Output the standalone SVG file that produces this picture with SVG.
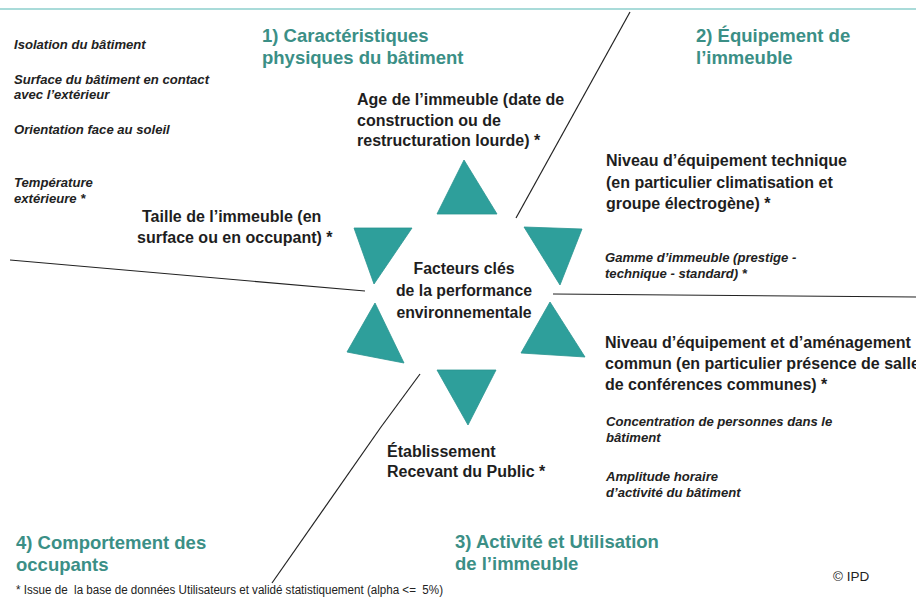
<svg xmlns="http://www.w3.org/2000/svg" width="916" height="599" viewBox="0 0 916 599">
<defs>
<style>
.hd{font-family:"Liberation Sans",Arial,sans-serif;font-weight:bold;font-size:18.5px;fill:#3b8f86}
.mt{font-family:"Liberation Sans",Arial,sans-serif;font-weight:bold;font-size:16px;fill:#1e1e1e}
.ct{font-family:"Liberation Sans",Arial,sans-serif;font-weight:bold;font-size:15.8px;fill:#1e1e1e}
.it{font-family:"Liberation Sans",Arial,sans-serif;font-weight:bold;font-style:italic;font-size:13.1px;fill:#222}
.fn{font-family:"Liberation Sans Narrow","Liberation Sans",Arial,sans-serif;font-size:12.5px;fill:#222}
.cp{font-family:"Liberation Sans",Arial,sans-serif;font-size:13.5px;fill:#222}
.tri{fill:#2e9f9b;stroke:#2a9490;stroke-width:0.8}
.sep{stroke:#222;stroke-width:1.2;fill:none}
</style>
</defs>
<rect width="916" height="599" fill="#ffffff"/>
<line x1="0" y1="9" x2="916" y2="9" stroke="#8ccfcc" stroke-width="1.5"/>
<g id="connectors">
<line class="sep" x1="630" y1="12" x2="516" y2="218"/>
<line class="sep" x1="10" y1="260" x2="365" y2="291"/>
<line class="sep" x1="553" y1="294" x2="916" y2="297"/>
<line class="sep" x1="420" y1="374" x2="381" y2="427"/>
<line class="sep" x1="381" y1="427" x2="272" y2="583"/>
</g>
<g id="triangles">
<polygon id="tri-top" class="tri" points="464,160 497,214 437,214"/>
<polygon id="tri-upleft" class="tri" points="354,228 412,228 374,284"/>
<polygon id="tri-upright" class="tri" points="524,227 582,229 560,285"/>
<polygon id="tri-lowleft" class="tri" points="375,303 404,363 347,352"/>
<polygon id="tri-lowright" class="tri" points="550,302 585,357 521,353"/>
<polygon id="tri-bottom" class="tri" points="437,370 496,370 468,425"/>
</g>
<g id="center">
<text class="ct" text-anchor="middle" x="464" y="274">Facteurs clés</text>
<text class="ct" text-anchor="middle" x="464" y="296">de la performance</text>
<text class="ct" text-anchor="middle" x="464" y="318">environnementale</text>
</g>
<g id="heading1">
<text class="hd" x="262" y="42">1) Caractéristiques</text>
<text class="hd" x="262" y="64">physiques du bâtiment</text>
</g>
<g id="heading2">
<text class="hd" x="696" y="42">2) Équipement de</text>
<text class="hd" x="696" y="64">l’immeuble</text>
</g>
<g id="heading3">
<text class="hd" x="455" y="548">3) Activité et Utilisation</text>
<text class="hd" x="455" y="570">de l’immeuble</text>
</g>
<g id="heading4">
<text class="hd" x="16" y="549">4) Comportement des</text>
<text class="hd" x="16" y="571">occupants</text>
</g>
<g id="left-factors">
<text class="it" x="14" y="49">Isolation du bâtiment</text>
<text class="it" x="14" y="84">Surface du bâtiment en contact</text>
<text class="it" x="14" y="99">avec l’extérieur</text>
<text class="it" x="14" y="134">Orientation face au soleil</text>
<text class="it" x="14" y="187">Température</text>
<text class="it" x="14" y="203">extérieure *</text>
</g>
<g id="age">
<text class="mt" x="357" y="105">Age de l’immeuble (date de</text>
<text class="mt" x="357" y="126">construction ou de</text>
<text class="mt" x="357" y="146">restructuration lourde) *</text>
</g>
<g id="taille">
<text class="mt" x="142" y="222">Taille de l’immeuble (en</text>
<text class="mt" x="137" y="243">surface ou en occupant) *</text>
</g>
<g id="equip-tech">
<text class="mt" x="606" y="166">Niveau d’équipement technique</text>
<text class="mt" x="606" y="188">(en particulier climatisation et</text>
<text class="mt" x="606" y="209">groupe électrogène) *</text>
</g>
<g id="gamme">
<text class="it" x="605" y="262">Gamme d’immeuble (prestige -</text>
<text class="it" x="605" y="278">technique - standard) *</text>
</g>
<g id="equip-commun">
<text class="mt" x="605" y="348">Niveau d’équipement et d’aménagement</text>
<text class="mt" x="605" y="369">commun (en particulier présence de salle</text>
<text class="mt" x="605" y="390">de conférences communes) *</text>
</g>
<g id="activite">
<text class="it" x="606" y="426">Concentration de personnes dans le</text>
<text class="it" x="606" y="442">bâtiment</text>
<text class="it" x="606" y="481">Amplitude horaire</text>
<text class="it" x="606" y="497">d’activité du bâtiment</text>
</g>
<g id="erp">
<text class="mt" x="387" y="457">Établissement</text>
<text class="mt" x="387" y="477">Recevant du Public *</text>
</g>
<text class="cp" x="833" y="581">© IPD</text>
<text class="fn" x="16" y="594" xml:space="preserve" textLength="427" lengthAdjust="spacingAndGlyphs">* Issue de  la base de données Utilisateurs et validé statistiquement (alpha &lt;=  5%)</text>
</svg>
